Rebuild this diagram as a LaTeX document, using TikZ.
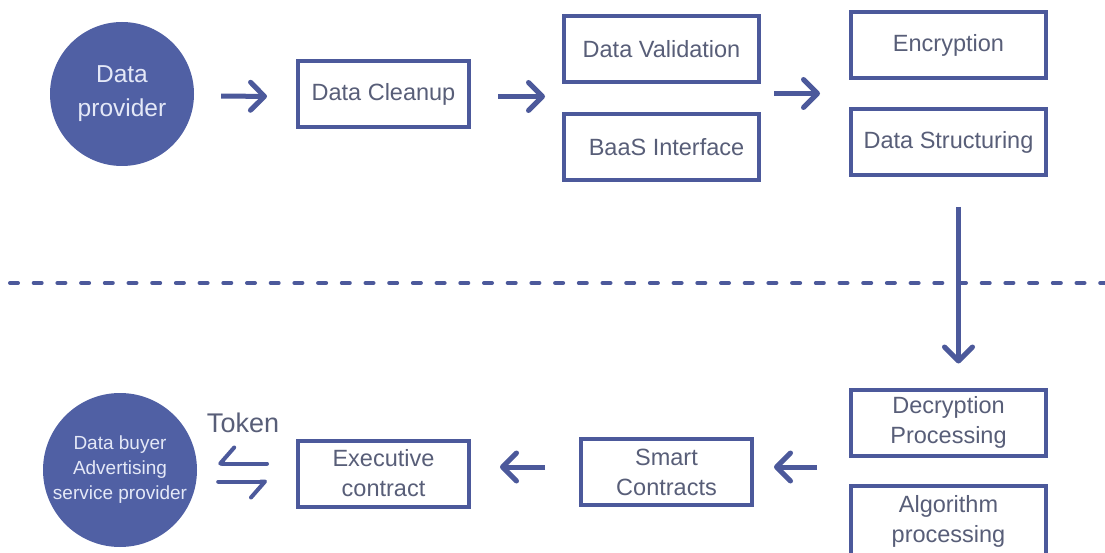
\documentclass[tikz,border=0pt]{standalone}
\usepackage{fontspec}
\setmainfont{Liberation Sans}
\usetikzlibrary{arrows.meta}
\definecolor{lineblue}{RGB}{76,89,155}
\definecolor{fillblue}{RGB}{80,96,164}
\definecolor{txtgray}{RGB}{88,94,120}
\definecolor{circtxt}{RGB}{228,232,247}
\tikzset{
  box/.style={draw=lineblue, line width=4pt, inner sep=0pt, align=center,
    text=txtgray, font=\fontsize{23.5}{30}\selectfont},
  wbox/.style={box, minimum width=195pt, minimum height=66pt},
  nbox/.style={box, minimum width=171pt, minimum height=66pt},
  bubble/.style={circle, fill=fillblue, inner sep=0pt, align=center, text=circtxt},
  arr/.style={draw=lineblue, line width=5pt,
    -{Straight Barb[length=14pt, width=28pt, round]}},
  harp/.style={draw=lineblue, line width=4pt, line cap=round,
    -{Straight Barb[right, length=14pt, width=32pt, round]}},
  sep/.style={draw=lineblue, line width=4pt, line cap=round, dash pattern=on 8pt off 15.7pt}
}
\begin{document}
\begin{tikzpicture}[x=1pt, y=-1pt]
\path[use as bounding box, clip] (0,0) rectangle (1105,553);
\fill[white] (0,0) rectangle (1105,553);

% top row
\node[bubble, minimum size=144pt, font=\fontsize{24.5}{34}\selectfont] (dp) at (122,94) {Data\\provider};
\node[nbox] (clean) at (383.5,94.5) {Data Cleanup};
\node[wbox] (val) at (661.5,49.5) {Data Validation};
\node[wbox] (baas) at (661.5,147) {\hspace*{10pt}BaaS Interface};
\node[wbox] (enc) at (948.5,45.5) {Encryption};
\node[wbox] (struct) at (948.5,142) {Data Structuring};

\draw[arr, shorten <=27pt, shorten >=29pt] ([yshift=-2pt]dp.east) -- ([yshift=-2pt]clean.west);
\draw[arr, shorten <=27pt, shorten >=17pt] ([yshift=-2pt]clean.east) -- ([yshift=-2pt]clean.east -| val.west);
\draw[arr, shorten <=13pt, shorten >=29pt] ([yshift=1pt]clean.east -| val.east) -- ([yshift=1pt]clean.east -| enc.west);

% separator
\coordinate (sl) at (10,283);
\coordinate (sr) at (1110,283);
\draw[sep] (sl) -- (sr);

% vertical arrow
\node[wbox] (dec) at (948.5,422.5) {Decryption\\Processing};
\draw[arr, shorten <=30pt, shorten >=24pt] ([xshift=10pt]struct.south) -- ([xshift=10pt]struct.south |- dec.north);

% bottom row
\node[wbox, minimum height=70pt] (alg) at (948.5,521) {Algorithm\\processing};
\node[nbox] (smart) at (666.5,472) {Smart\\Contracts};
\node[nbox] (exec) at (383.5,473.5) {Executive\\contract};
\node[bubble, minimum size=154pt, font=\fontsize{19}{25}\selectfont] (buyer) at (120,470) {Data buyer\\Advertising\\service provider};
\node[text=txtgray, font=\fontsize{27}{30}\selectfont, inner sep=0pt] (token) at (243,423) {Token};

\draw[arr, shorten <=32pt, shorten >=20pt] ([yshift=5pt]smart.east -| dec.west) -- ([yshift=5pt]smart.east);
\draw[arr, shorten <=34pt, shorten >=29pt] ([yshift=5pt]smart.west) -- ([yshift=5pt]smart.west -| exec.east);

\draw[harp, shorten <=29pt, shorten >=21pt] ([yshift=10pt]exec.west) -- ([yshift=10pt]exec.west -| buyer.east);
\draw[harp, shorten <=21pt, shorten >=29pt] ([yshift=-8pt]exec.west -| buyer.east) -- ([yshift=-8pt]exec.west);
\end{tikzpicture}
\end{document}
